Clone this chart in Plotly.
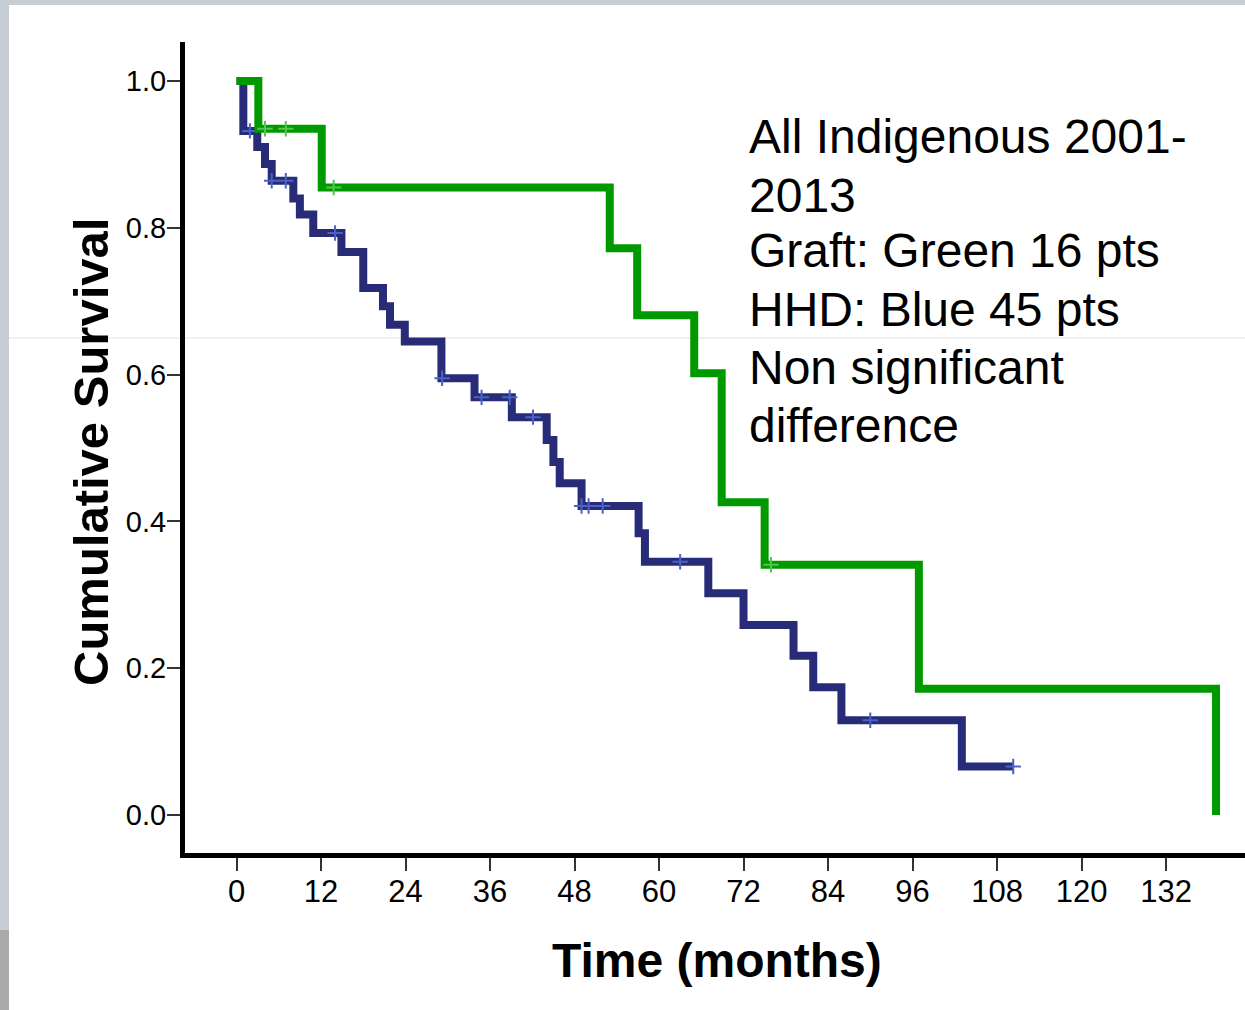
import numpy as np
import plotly.graph_objects as go

# ---------------- data ----------------
# Graft group (green, 16 pts): event times (months) and survival after each step
graft_t = [0, 3.1, 12.1, 53.0, 56.9, 65.0, 68.9, 75.0, 96.9, 139.1]
graft_s = [1.0, 0.935, 0.855, 0.772, 0.681, 0.602, 0.426, 0.341, 0.172, 0.0]
graft_censor_t = [4.05, 7.0, 13.8, 75.9]

# HHD group (blue, 45 pts)
hhd_t = [0, 0.97, 2.95, 4.05, 5.0, 8.07, 9.0, 10.9, 14.9, 18.0, 20.8, 21.8, 23.9,
         29.1, 33.8, 39.1, 44.05, 45.0, 45.9, 49.0, 57.1, 58.0, 67.0, 72.0, 79.1,
         81.9, 85.9, 103.0, 110.3]
hhd_s = [1.0, 0.932, 0.910, 0.887, 0.864, 0.840, 0.818, 0.793, 0.767, 0.718, 0.693,
         0.668, 0.645, 0.595, 0.569, 0.542, 0.511, 0.481, 0.452, 0.421, 0.384, 0.345,
         0.302, 0.259, 0.217, 0.174, 0.129, 0.066, 0.066]
hhd_censor_t = [1.9, 5.0, 7.0, 14.0, 29.2, 34.8, 38.8, 42.1, 49.0, 50.0, 52.0, 63.0,
                90.0, 110.3]

x_ticks = [0, 12, 24, 36, 48, 60, 72, 84, 96, 108, 120, 132]
y_ticks = [0.0, 0.2, 0.4, 0.6, 0.8, 1.0]
y_tick_labels = ["0.0", "0.2", "0.4", "0.6", "0.8", "1.0"]

note_lines = ["All Indigenous 2001-", "2013", "Graft: Green 16 pts",
              "HHD: Blue 45 pts", "Non significant", "difference"]

# ---------------- layout geometry ----------------
W, H = 1245, 1010
L, R, T, B = 185, 1245, 42, 853          # plot area in pixels
X0PX, PXM = 236.5, 7.042                 # pixel of t=0, pixels per month
Y0PX, PXU = 815.0, 734.0                 # pixel of S=0, pixels per unit

x_range = [(L - X0PX) / PXM, (R - X0PX) / PXM]
y_range = [(Y0PX - B) / PXU, (Y0PX - T) / PXU]


def paper_x(px):
    return (px - L) / (R - L)


def paper_y(py):
    return (B - py) / (B - T)


def step_value(times, surv, t):
    idx = np.searchsorted(np.asarray(times), t, side="right") - 1
    return [surv[i] for i in idx]


FONT = "Liberation Sans, Arial, Helvetica, sans-serif"
GREEN = "#009a00"
BLUE = "#282c78"

fig = go.Figure()

fig.add_trace(go.Scatter(x=hhd_t, y=hhd_s, mode="lines", line_shape="hv",
                         line=dict(color=BLUE, width=8), name="HHD",
                         showlegend=False))
fig.add_trace(go.Scatter(x=hhd_censor_t, y=step_value(hhd_t, hhd_s, hhd_censor_t),
                         mode="markers",
                         marker=dict(symbol="cross-thin", size=11,
                                     line=dict(color="#4a62c4", width=2)),
                         showlegend=False))
fig.add_trace(go.Scatter(x=graft_t, y=graft_s, mode="lines", line_shape="hv",
                         line=dict(color=GREEN, width=8), name="Graft",
                         showlegend=False))
fig.add_trace(go.Scatter(x=graft_censor_t, y=step_value(graft_t, graft_s, graft_censor_t),
                         mode="markers",
                         marker=dict(symbol="cross-thin", size=11,
                                     line=dict(color="#52c452", width=2)),
                         showlegend=False))

shapes = [
    # white slide area
    dict(type="rect", xref="paper", yref="paper", layer="below",
         x0=paper_x(9), x1=paper_x(W), y0=paper_y(H), y1=paper_y(5),
         fillcolor="white", line=dict(width=0)),
    # darker patch lower-left of the border
    dict(type="rect", xref="paper", yref="paper", layer="below",
         x0=paper_x(0), x1=paper_x(9), y0=paper_y(H), y1=paper_y(930),
         fillcolor="#aaaaaa", line=dict(width=0)),
    # faint horizontal artefact line
    dict(type="line", xref="paper", yref="paper", layer="below",
         x0=paper_x(9), x1=paper_x(W), y0=paper_y(338), y1=paper_y(338),
         line=dict(color="#e2e2e2", width=1)),
]

annotations = []
line_centers = [137, 195, 251, 309, 367, 425]
for txt, cy in zip(note_lines, line_centers):
    annotations.append(dict(text=txt, xref="paper", yref="paper",
                            x=paper_x(747), y=paper_y(cy), xanchor="left",
                            yanchor="middle", showarrow=False,
                            font=dict(family=FONT, size=48, color="black")))
annotations.append(dict(text="<b>Time (months)</b>", xref="paper", yref="paper",
                        x=paper_x(717), y=paper_y(960), xanchor="center",
                        yanchor="middle", showarrow=False,
                        font=dict(family=FONT, size=48, color="black")))
annotations.append(dict(text="<b>Cumulative Survival</b>", xref="paper", yref="paper",
                        x=paper_x(91), y=paper_y(452), xanchor="center",
                        yanchor="middle", showarrow=False, textangle=-90,
                        font=dict(family=FONT, size=49, color="black")))

fig.update_layout(
    width=W, height=H,
    margin=dict(l=L, r=W - R, t=T, b=H - B, pad=0),
    paper_bgcolor="#c6cdd4",
    plot_bgcolor="white",
    shapes=shapes,
    annotations=annotations,
    font=dict(family=FONT, color="black"),
    xaxis=dict(range=x_range, tickvals=x_ticks, ticktext=[str(v) for v in x_ticks],
               showgrid=False, zeroline=False, showline=True, linecolor="black",
               linewidth=5, ticks="outside", ticklen=13, tickwidth=1.5,
               tickcolor="#333333", ticklabelstandoff=-6,
               tickfont=dict(family=FONT, size=31, color="black")),
    yaxis=dict(range=y_range, tickvals=y_ticks, ticktext=y_tick_labels,
               showgrid=False, zeroline=False, showline=True, linecolor="black",
               linewidth=5, ticks="outside", ticklen=13, tickwidth=1.5,
               tickcolor="#333333", ticklabelstandoff=-5,
               tickfont=dict(family=FONT, size=29, color="black")),
)

fig.write_html("out.html",
               config={"displayModeBar": False},
               post_script="document.body.style.margin='0';"
                           "document.body.style.overflow='hidden';")
